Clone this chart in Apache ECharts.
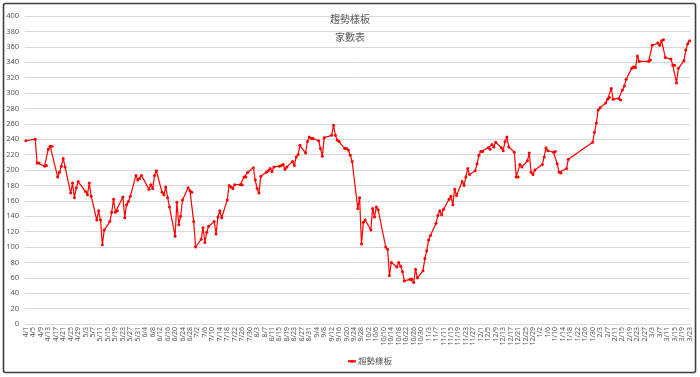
<!DOCTYPE html>
<html><head><meta charset="utf-8">
<script src="https://cdn.jsdelivr.net/npm/echarts@6/dist/echarts.min.js"></script>
<style>html,body{margin:0;padding:0;background:#fff}#c{width:700px;height:377px}</style>
</head><body><div id="c"></div>
<script>
const titleText = '趨勢樣板';
const subTitleText = '家數表';
const seriesName = '趨勢樣板';
const axisStart = '2022-04-01';
const axisEnd = '2023-03-23';
const labelEvery = 4;
const yMin = 0, yMax = 400, yStep = 20;

const tradeDates = [
'2022-04-01','2022-04-06','2022-04-07','2022-04-08','2022-04-11','2022-04-12','2022-04-13','2022-04-14','2022-04-15',
'2022-04-18','2022-04-19','2022-04-20','2022-04-21','2022-04-22','2022-04-25','2022-04-26','2022-04-27','2022-04-28','2022-04-29',
'2022-05-03','2022-05-04','2022-05-05','2022-05-06','2022-05-09','2022-05-10','2022-05-11','2022-05-12','2022-05-13',
'2022-05-16','2022-05-17','2022-05-18','2022-05-19','2022-05-20','2022-05-23','2022-05-24','2022-05-25','2022-05-26','2022-05-27',
'2022-05-30','2022-05-31','2022-06-01','2022-06-02','2022-06-06','2022-06-07','2022-06-08','2022-06-09','2022-06-10',
'2022-06-13','2022-06-14','2022-06-15','2022-06-16','2022-06-17','2022-06-20','2022-06-21','2022-06-22','2022-06-23','2022-06-24',
'2022-06-27','2022-06-28','2022-06-29','2022-06-30','2022-07-01','2022-07-04','2022-07-05','2022-07-06','2022-07-07','2022-07-08',
'2022-07-11','2022-07-12','2022-07-13','2022-07-14','2022-07-15','2022-07-18','2022-07-19','2022-07-20','2022-07-21','2022-07-22',
'2022-07-25','2022-07-26','2022-07-27','2022-07-28','2022-07-29','2022-08-01','2022-08-02','2022-08-03','2022-08-04','2022-08-05',
'2022-08-08','2022-08-09','2022-08-10','2022-08-11','2022-08-12','2022-08-15','2022-08-16','2022-08-17','2022-08-18','2022-08-19',
'2022-08-22','2022-08-23','2022-08-24','2022-08-25','2022-08-26','2022-08-29','2022-08-30','2022-08-31','2022-09-01','2022-09-02',
'2022-09-05','2022-09-06','2022-09-07','2022-09-08','2022-09-12','2022-09-13','2022-09-14','2022-09-15','2022-09-16',
'2022-09-19','2022-09-20','2022-09-21','2022-09-22','2022-09-23','2022-09-26','2022-09-27','2022-09-28','2022-09-29','2022-09-30',
'2022-10-03','2022-10-04','2022-10-05','2022-10-06','2022-10-07','2022-10-11','2022-10-12','2022-10-13','2022-10-14',
'2022-10-17','2022-10-18','2022-10-19','2022-10-20','2022-10-21','2022-10-24','2022-10-25','2022-10-26','2022-10-27','2022-10-28',
'2022-10-31','2022-11-01','2022-11-02','2022-11-03','2022-11-04','2022-11-07','2022-11-08','2022-11-09','2022-11-10','2022-11-11',
'2022-11-14','2022-11-15','2022-11-16','2022-11-17','2022-11-18','2022-11-21','2022-11-22','2022-11-23','2022-11-24','2022-11-25',
'2022-11-28','2022-11-29','2022-11-30','2022-12-01','2022-12-02','2022-12-05','2022-12-06','2022-12-07','2022-12-08','2022-12-09',
'2022-12-12','2022-12-13','2022-12-14','2022-12-15','2022-12-16','2022-12-19','2022-12-20','2022-12-21','2022-12-22','2022-12-23',
'2022-12-26','2022-12-27','2022-12-28','2022-12-29','2022-12-30','2023-01-03','2023-01-04','2023-01-05','2023-01-06',
'2023-01-09','2023-01-10','2023-01-11','2023-01-12','2023-01-13','2023-01-16','2023-01-17','2023-01-30','2023-01-31',
'2023-02-01','2023-02-02','2023-02-03','2023-02-06','2023-02-07','2023-02-08','2023-02-09','2023-02-10',
'2023-02-13','2023-02-14','2023-02-15','2023-02-16','2023-02-17','2023-02-20','2023-02-21','2023-02-22','2023-02-23','2023-02-24',
'2023-03-01','2023-03-02','2023-03-03','2023-03-06','2023-03-07','2023-03-08','2023-03-09','2023-03-10',
'2023-03-13','2023-03-14','2023-03-15','2023-03-16','2023-03-17','2023-03-20','2023-03-21','2023-03-22','2023-03-23'
];

const counts = [
238,240,209,209,205,206,227,231,231,
191,197,205,215,204,170,183,164,177,185,
172,168,183,166,135,147,135,103,122,
133,145,162,145,147,165,138,155,159,166,
193,187,189,193,175,181,176,193,199,
171,168,178,164,152,114,158,129,140,161,
177,173,171,133,100,110,125,106,119,127,
133,117,139,147,138,161,180,178,176,181,
181,181,191,191,197,203,187,176,170,192,
197,199,202,198,204,205,206,207,201,204,
211,206,217,220,232,222,237,243,241,241,
238,228,218,242,245,258,245,239,237,
228,228,226,219,211,150,164,104,132,135,
122,150,139,152,148,100,97,63,80,
74,80,75,68,56,58,58,54,71,60,
69,85,95,109,115,131,141,147,142,149,
162,166,155,175,167,185,180,191,202,194,
199,208,219,224,224,229,227,233,230,236,
229,225,237,243,230,223,191,191,207,204,
212,222,197,194,200,207,217,229,225,
223,224,208,197,196,202,214,236,249,
261,278,281,287,292,294,306,292,
293,291,304,309,318,332,334,333,348,341,
341,343,362,365,362,368,369,346,
344,336,336,313,332,342,356,364,368
];

const DAY = 86400000;
function parseDay(s){ const p = s.split('-').map(Number); return Date.UTC(p[0], p[1]-1, p[2]); }
const categories = [];
for (let t = parseDay(axisStart); t <= parseDay(axisEnd); t += DAY) {
  categories.push(new Date(t).toISOString().slice(0,10));
}
const lookup = {};
tradeDates.forEach((d,i) => { lookup[d] = counts[i]; });
const seriesData = categories.map(k => (k in lookup ? lookup[k] : null));

const FONT = '"Noto Sans CJK TC", "Noto Sans", sans-serif';
const chart = echarts.init(document.getElementById('c'), null, {renderer:'canvas'});
chart.setOption({
  animation: false,
  backgroundColor: '#ffffff',
  title: [
    {text: titleText, left: 'center', top: 9, textStyle: {fontSize: 10, fontWeight: 'normal', color: '#595959', fontFamily: FONT}},
    {text: subTitleText, left: 'center', top: 27, textStyle: {fontSize: 10, fontWeight: 'normal', color: '#595959', fontFamily: FONT}}
  ],
  legend: {
    data: [seriesName], left: 342, top: 352, itemWidth: 8, itemHeight: 4, itemGap: 4,
    textStyle: {fontSize: 8.5, color: '#595959', fontFamily: FONT, padding: [0,0,0,-3]}
  },
  graphic: [{
    type: 'rect', shape: {x: 3.5, y: 3.5, width: 692, height: 369, r: 2},
    style: {fill: 'none', stroke: '#3f3f3f', lineWidth: 1.6}, silent: true, z: 100
  }],
  grid: {left: 25, right: 9.5, top: 16, bottom: 53, containLabel: false},
  xAxis: {
    type: 'category', data: categories, boundaryGap: true,
    axisLine: {show: true, lineStyle: {color: '#d9d9d9', width: 1}},
    axisTick: {show: false},
    axisLabel: {
      interval: labelEvery - 1, rotate: 90, fontSize: 7, color: '#595959', margin: 3,
      fontFamily: '"Noto Sans", sans-serif',
      formatter: v => { const p = v.split('-'); return (+p[1]) + '/' + (+p[2]); }
    },
    splitLine: {show: false}
  },
  yAxis: {
    type: 'value', min: yMin, max: yMax, interval: yStep,
    axisLine: {show: false}, axisTick: {show: false},
    axisLabel: {fontSize: 7.5, color: '#595959', margin: 6, fontFamily: '"Noto Sans", sans-serif'},
    splitLine: {lineStyle: {color: '#d9d9d9', width: 1}}
  },
  series: [{
    name: seriesName, type: 'line', data: seriesData, connectNulls: true,
    showAllSymbol: true, symbol: 'circle', symbolSize: 3,
    lineStyle: {color: '#ff0000', width: 1.2},
    itemStyle: {color: '#ff0000'}
  }]
});
</script>
</body></html>
